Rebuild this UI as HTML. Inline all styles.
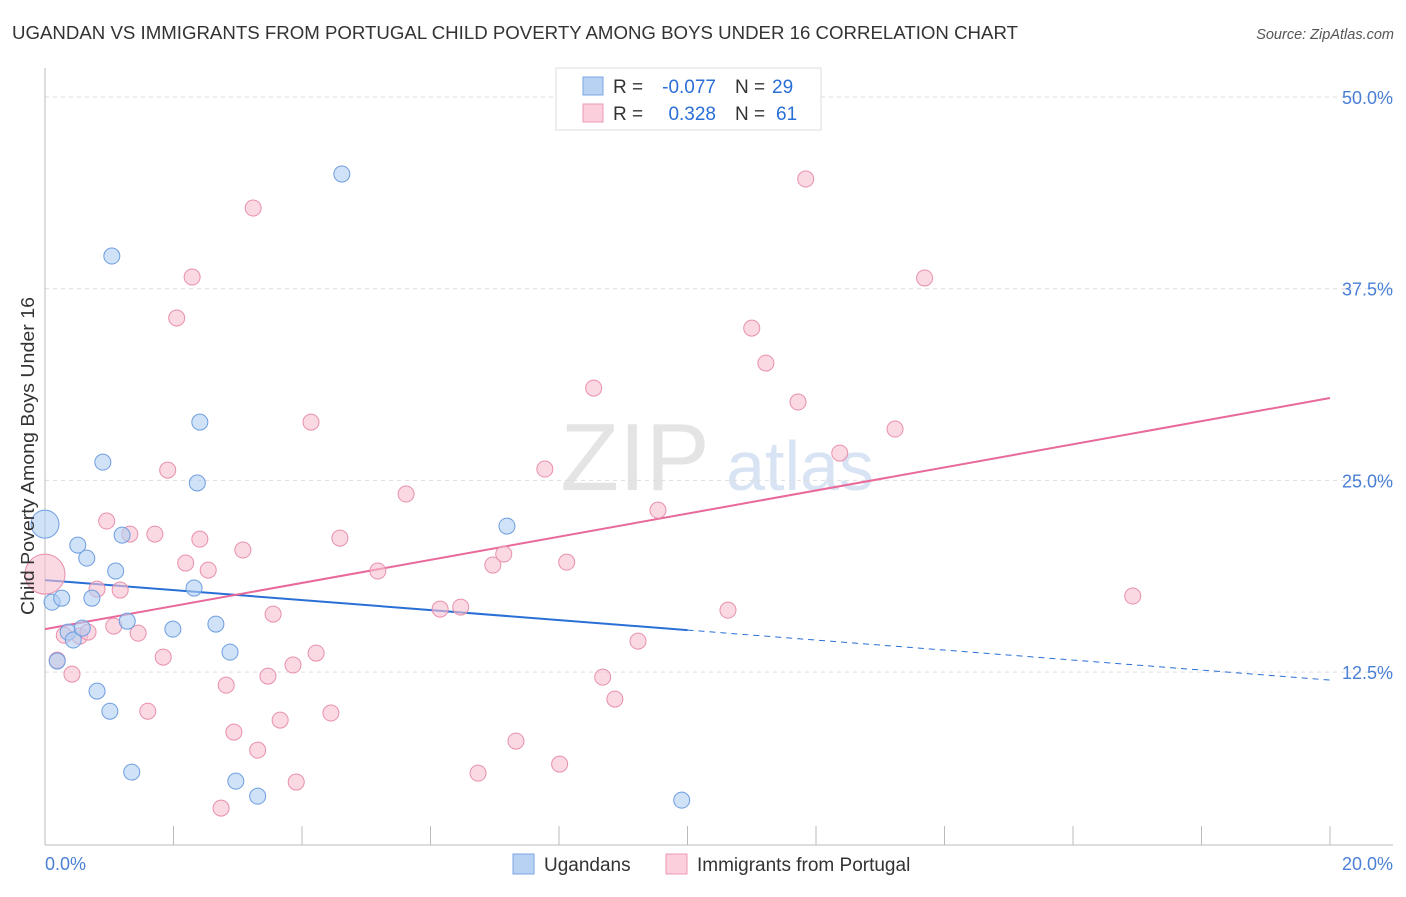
<!DOCTYPE html>
<html><head><meta charset="utf-8"><style>
body{margin:0;background:#fff;font-family:"Liberation Sans",sans-serif;}
svg text{font-family:"Liberation Sans",sans-serif;}
</style></head><body>
<svg width="1406" height="892" xmlns="http://www.w3.org/2000/svg" id="chart">
<text x="12" y="39" font-size="18" fill="#333" textLength="1006" lengthAdjust="spacingAndGlyphs">UGANDAN VS IMMIGRANTS FROM PORTUGAL CHILD POVERTY AMONG BOYS UNDER 16 CORRELATION CHART</text>
<text x="1394" y="39" font-size="14.5" fill="#555" text-anchor="end" font-style="italic">Source: ZipAtlas.com</text>
<text x="635" y="490" font-size="96" fill="#e4e4e4" font-family="Liberation Serif" text-anchor="middle">ZIP</text>
<text x="800" y="490" font-size="70" fill="#d8e4f4" text-anchor="middle">atlas</text>
<g id="grid"></g><g id="axes"></g><g id="trend"></g><g id="pts"></g>
<text transform="translate(34,456) rotate(-90)" font-size="18" fill="#333" text-anchor="middle" textLength="318" lengthAdjust="spacingAndGlyphs">Child Poverty Among Boys Under 16</text>
<text x="45" y="870" font-size="18" fill="#4a7fd6">0.0%</text>
<text x="1393" y="870" font-size="18" fill="#4a7fd6" text-anchor="end">20.0%</text>
<g>
<rect x="556" y="68" width="265" height="62" fill="#fff" stroke="#ddd"/>
<rect x="583" y="77" width="20" height="18" fill="#b8d2f4" stroke="#7aa6e0"/>
<rect x="583" y="104" width="20" height="18" fill="#fbd0dc" stroke="#ec98b4"/>
<text x="613" y="93" font-size="19" fill="#333">R =</text>
<text x="716" y="93" font-size="19" fill="#2a6fd6" text-anchor="end">-0.077</text>
<text x="735" y="93" font-size="19" fill="#333">N =</text>
<text x="772" y="93" font-size="19" fill="#2a6fd6">29</text>
<text x="613" y="120" font-size="19" fill="#333">R =</text>
<text x="716" y="120" font-size="19" fill="#2a6fd6" text-anchor="end">0.328</text>
<text x="735" y="120" font-size="19" fill="#333">N =</text>
<text x="776" y="120" font-size="19" fill="#2a6fd6">61</text>
</g>
<g>
<rect x="513" y="854" width="21" height="20" fill="#b8d2f4" stroke="#7aa6e0"/>
<text x="544" y="871" font-size="19" fill="#333">Ugandans</text>
<rect x="666" y="854" width="21" height="20" fill="#fbd0dc" stroke="#ec98b4"/>
<text x="697" y="871" font-size="19" fill="#333">Immigrants from Portugal</text>
</g>
</svg>
<script>
const yTicks=[50,37.5,25,12.5];
const yTickLabels=["50.0%","37.5%","25.0%","12.5%"];
const xTicks=[0,2,4,6,8,10,12,14,16,18,20];
const blueX=[0,0.11,0.26,0.36,0.44,0.51,0.58,0.65,0.73,0.81,0.90,1.01,1.04,1.10,1.20,1.28,1.35,1.99,2.32,2.37,2.41,2.66,2.88,2.97,3.31,4.62,7.19,9.91,0.19];
const blueY=[22.15,17.06,17.32,15.11,14.59,20.78,15.37,19.93,17.32,11.26,26.19,9.95,39.63,19.09,21.43,15.82,5.98,15.30,17.98,24.83,28.80,15.63,13.80,5.39,4.41,44.98,22.02,4.15,13.22];
const pinkX=[0,0.19,0.42,0.54,0.67,0.81,0.96,1.07,1.17,1.32,1.45,1.60,1.71,1.84,1.91,2.05,2.19,2.29,2.41,2.54,2.74,2.82,2.94,3.08,3.24,3.31,3.47,3.55,3.66,3.86,3.91,4.14,4.22,4.45,4.59,5.18,5.62,6.15,6.47,6.74,6.97,7.14,7.33,7.78,8.01,8.12,8.54,8.68,8.87,9.23,9.54,10.63,11.00,11.22,11.72,11.84,12.37,13.23,13.69,16.93,0.3];
const pinkY=[18.89,13.28,12.37,14.85,15.11,17.91,22.35,15.50,17.85,21.50,15.04,9.95,21.50,13.48,25.67,35.59,19.61,38.26,21.17,19.15,3.63,11.65,8.59,20.46,42.76,7.41,12.24,16.28,9.37,12.96,5.33,28.80,13.74,9.83,21.24,19.09,24.11,16.61,16.74,5.91,19.48,20.20,8.00,25.74,6.50,19.67,31.02,12.17,10.74,14.52,23.06,16.54,34.93,32.65,30.11,44.65,26.78,28.35,38.20,17.46,14.9];
const blueTrend=[18.5,11.98];
const pinkTrend=[15.3,30.37];
const NS="http://www.w3.org/2000/svg";
const X=v=>45+v/20*1285;
const Y=v=>97+(50-v)/12.5*191.7;
function mk(tag,attrs,parent){const e=document.createElementNS(NS,tag);for(const k in attrs)e.setAttribute(k,attrs[k]);document.getElementById(parent).appendChild(e);return e;}
yTicks.forEach((t,i)=>{
 const l=mk('line',{x1:45,x2:1393,y1:Y(t),y2:Y(t),stroke:'#ddd','stroke-dasharray':'4,4'},'grid');
 
 
 const tx=mk('text',{x:1393,y:Y(t)+7,'font-size':18,fill:'#4a7fd6','text-anchor':'end'},'grid');
 tx.textContent=yTickLabels[i];
 
 
});
const ax=mk('line',{x1:45,x2:45,y1:68,y2:845,stroke:'#bbb'},'axes');


const bx=mk('line',{x1:45,x2:1393,y1:845,y2:845,stroke:'#bbb'},'axes');


xTicks.forEach(t=>{
 const l=mk('line',{x1:X(t),x2:X(t),y1:826,y2:845,stroke:'#bbb'},'axes');
 
 
});
function dot(x,y,r,fill,stroke,name){
 const c=mk('circle',{cx:X(x),cy:Y(y),r:r,fill:fill,stroke:stroke,'stroke-width':1,'fill-opacity':0.6},'pts');
 
 
}
pinkX.forEach((x,i)=>dot(x,pinkY[i],i===0?20:8,'#f8c0d0','#e890ac','portugal-point'));
blueX.forEach((x,i)=>dot(x,blueY[i],i===0?14:8,'#b0cef2','#6e9ee0','ugandan-point'));
const bm=blueTrend[0]+(blueTrend[1]-blueTrend[0])*0.5;
const b1=mk('line',{x1:X(0),y1:Y(blueTrend[0]),x2:X(10),y2:Y(bm),stroke:'#2a6fd6','stroke-width':2},'trend');


const b2=mk('line',{x1:X(10),y1:Y(bm),x2:X(20),y2:Y(blueTrend[1]),stroke:'#2a6fd6','stroke-width':1,'stroke-dasharray':'6,5'},'trend');


const p1=mk('line',{x1:X(0),y1:Y(pinkTrend[0]),x2:X(20),y2:Y(pinkTrend[1]),stroke:'#e8699a','stroke-width':2},'trend');


</script>
</body></html>
